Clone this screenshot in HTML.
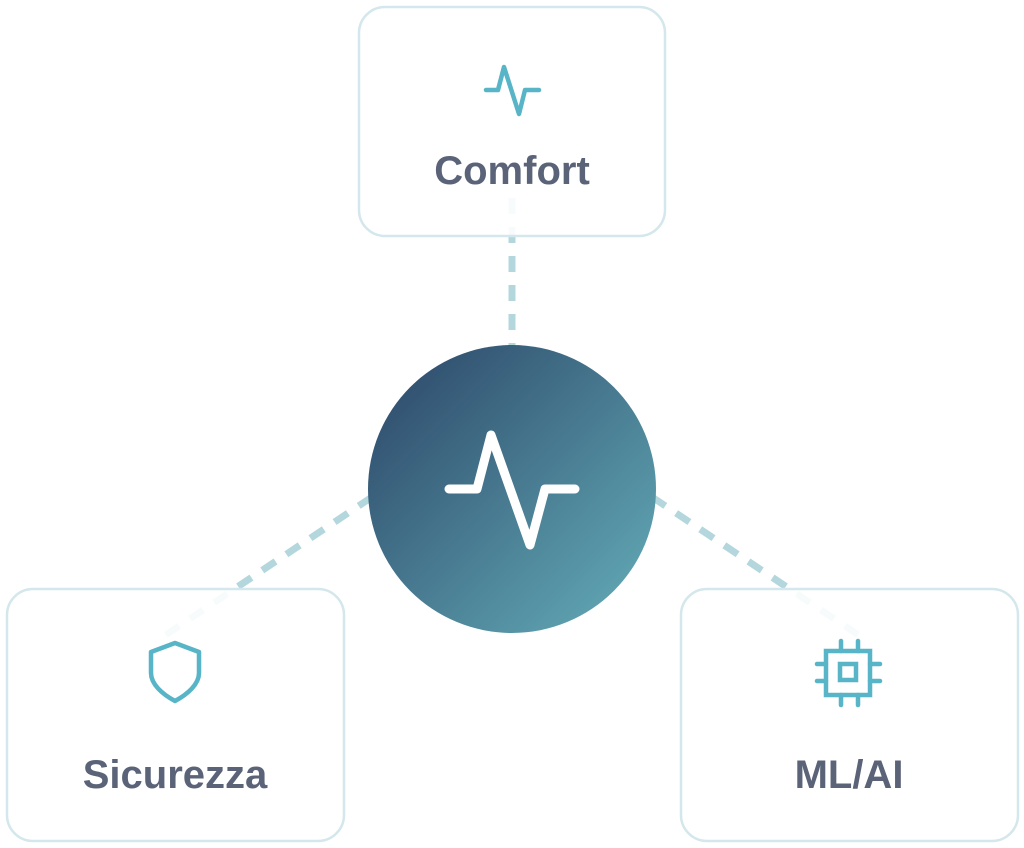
<!DOCTYPE html>
<html><head><style>
html,body{margin:0;padding:0;background:#fff;}
svg{display:block}
text{font-family:"Liberation Sans",Arial,sans-serif;font-weight:bold;fill:#5a6378;}
</style></head><body>
<svg width="1024" height="848" viewBox="0 0 1024 848" xmlns="http://www.w3.org/2000/svg">
<defs>
<linearGradient id="g" x1="0" y1="0" x2="1" y2="1">
<stop offset="0" stop-color="#2a4466"/>
<stop offset="1" stop-color="#65afba"/>
</linearGradient>
</defs>
<g stroke="#b3d7dc" stroke-width="7" stroke-dasharray="16 13" fill="none">
<line x1="512" y1="198" x2="512" y2="345"/>
<line x1="372" y1="497" x2="158" y2="640"/>
<line x1="652" y1="497" x2="866" y2="640"/>
</g>
<g fill="#fff" fill-opacity="0.9" stroke="#d3e7ec" stroke-width="2.5">
<rect x="359" y="7" width="306" height="229" rx="26"/>
<rect x="7" y="589" width="337" height="252" rx="26"/>
<rect x="681" y="589" width="337" height="252" rx="26"/>
</g>
<circle cx="512" cy="489" r="144" fill="url(#g)"/>
<polyline points="449,489 477,489 491,435 530,545 545,489 575,489" fill="none" stroke="#fff" stroke-width="9" stroke-linecap="round" stroke-linejoin="round"/>
<polyline points="486,90 498,90 504,67 519,114 525,90 539,90" fill="none" stroke="#57b5c7" stroke-width="4.5" stroke-linecap="round" stroke-linejoin="round"/>
<path d="M175,643 L199,652 L199,673 C199,684 188,694 175,701 C162,694 151,684 151,673 L151,652 Z" fill="none" stroke="#57b5c7" stroke-width="4.5" stroke-linejoin="round"/>
<g fill="none" stroke="#57b5c7" stroke-width="4.5" stroke-linecap="round">
<rect x="826" y="651" width="44" height="44"/>
<rect x="840" y="664" width="16" height="16"/>
<line x1="841" y1="641" x2="841" y2="651"/><line x1="858" y1="641" x2="858" y2="651"/>
<line x1="841" y1="695" x2="841" y2="705"/><line x1="858" y1="695" x2="858" y2="705"/>
<line x1="817" y1="664" x2="826" y2="664"/><line x1="817" y1="681" x2="826" y2="681"/>
<line x1="870" y1="664" x2="880" y2="664"/><line x1="870" y1="681" x2="880" y2="681"/>
</g>
<text x="512" y="184" font-size="40" text-anchor="middle">Comfort</text>
<text x="175" y="788" font-size="40" text-anchor="middle">Sicurezza</text>
<text x="849" y="788" font-size="40" text-anchor="middle">ML/AI</text>
</svg>
</body></html>
